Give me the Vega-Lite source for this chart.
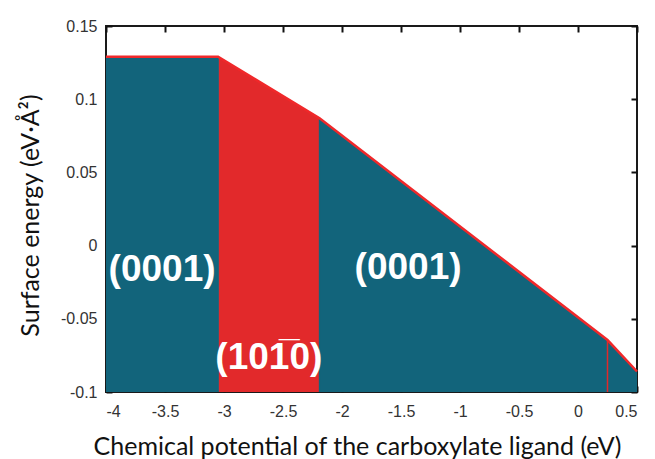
{
  "$schema": "https://vega.github.io/schema/vega-lite/v6.json",
  "width": 531,
  "height": 366,
  "autosize": {"type": "none"},
  "padding": {"left": 106, "top": 26, "right": 18, "bottom": 67},
  "background": "white",
  "config": {
    "view": {"stroke": "#1a1a1a", "strokeWidth": 2},
    "axis": {
      "domain": false,
      "grid": false,
      "tickColor": "#111111",
      "tickWidth": 2,
      "tickSize": -6,
      "labelFont": "Liberation Sans",
      "labelFontSize": 16,
      "labelColor": "#333333",
      "titleFont": "Lato",
      "titleFontWeight": "normal",
      "titleFontSize": 25,
      "titleColor": "#111111"
    }
  },
  "datasets": {
    "areas": [
      {"seg": "A", "x": -4, "y": 0.129},
      {"seg": "A", "x": -3.05, "y": 0.129},
      {"seg": "B", "x": -3.05, "y": 0.129},
      {"seg": "B", "x": -2.19, "y": 0.087},
      {"seg": "C", "x": -2.19, "y": 0.087},
      {"seg": "C", "x": 0.25, "y": -0.0645},
      {"seg": "C", "x": 0.5, "y": -0.086}
    ],
    "envelope": [
      {"x": -4, "y": 0.129},
      {"x": -3.05, "y": 0.129},
      {"x": -2.19, "y": 0.087},
      {"x": 0.25, "y": -0.0645},
      {"x": 0.5, "y": -0.086}
    ],
    "dividers": [
      {"x": -3.05, "y": 0.129, "kind": "light"},
      {"x": -2.19, "y": 0.087, "kind": "light"},
      {"x": 0.25, "y": -0.0645, "kind": "red"}
    ],
    "labels": [
      {"x": -3.525, "y": -0.0167, "text": "(0001)"},
      {"x": -1.44, "y": -0.0153, "text": "(0001)"},
      {"x": -2.62, "y": -0.0768, "text": "(101\u03050)"}
    ]
  },
  "layer": [
    {
      "data": {"name": "areas"},
      "mark": {"type": "area", "interpolate": "linear"},
      "encoding": {
        "x": {
          "field": "x", "type": "quantitative",
          "scale": {"domain": [-4, 0.5], "nice": false, "zero": false},
          "axis": {
            "orient": "bottom",
            "values": [-4, -3.5, -3, -2.5, -2, -1.5, -1, -0.5, 0, 0.5],
            "labelExpr": "'' + datum.value",
            "labelPadding": 17,
            "title": "Chemical potential of the carboxylate ligand (eV)",
            "titleX": 251,
            "titleY": 62,
            "titleBaseline": "alphabetic"
          }
        },
        "y": {
          "field": "y", "type": "quantitative",
          "scale": {"domain": [-0.1, 0.15], "nice": false, "zero": false},
          "axis": {
            "orient": "left",
            "values": [-0.1, -0.05, 0, 0.05, 0.1, 0.15],
            "labelExpr": "'' + datum.value",
            "labelPadding": 15,
            "title": "Surface energy (eV·Å²)",
            "titleX": -68,
            "titleY": 189,
            "titleBaseline": "alphabetic"
          }
        },
        "y2": {"datum": -0.1},
        "color": {
          "field": "seg", "type": "nominal",
          "scale": {"domain": ["A", "B", "C"], "range": ["#12647b", "#e2292b", "#12647b"]},
          "legend": null
        }
      }
    },
    {
      "data": {"name": "dividers"},
      "mark": {"type": "rule", "strokeWidth": 1.5},
      "encoding": {
        "x": {"field": "x", "type": "quantitative", "axis": null},
        "y": {"field": "y", "type": "quantitative", "axis": null},
        "y2": {"datum": -0.1},
        "color": {
          "field": "kind", "type": "nominal",
          "scale": {"domain": ["light", "red"], "range": ["#d9b0b0", "#e05060"]},
          "legend": null
        }
      }
    },
    {
      "data": {"name": "envelope"},
      "mark": {"type": "line", "color": "#f0282a", "strokeWidth": 2.5},
      "encoding": {
        "x": {
          "field": "x", "type": "quantitative",
          "axis": {
            "orient": "top",
            "values": [-4, -3.5, -3, -2.5, -2, -1.5, -1, -0.5, 0, 0.5],
            "labels": false,
            "title": null
          }
        },
        "y": {
          "field": "y", "type": "quantitative",
          "axis": {
            "orient": "right",
            "values": [-0.1, -0.05, 0, 0.05, 0.1, 0.15],
            "labels": false,
            "title": null
          }
        }
      }
    },
    {
      "data": {"name": "labels"},
      "mark": {
        "type": "text",
        "font": "Liberation Sans",
        "fontWeight": "bold",
        "fontSize": 37,
        "color": "white",
        "baseline": "middle",
        "align": "center"
      },
      "encoding": {
        "x": {"field": "x", "type": "quantitative", "axis": null},
        "y": {"field": "y", "type": "quantitative", "axis": null},
        "text": {"field": "text"}
      }
    }
  ],
  "resolve": {"axis": {"x": "independent", "y": "independent"}}
}
